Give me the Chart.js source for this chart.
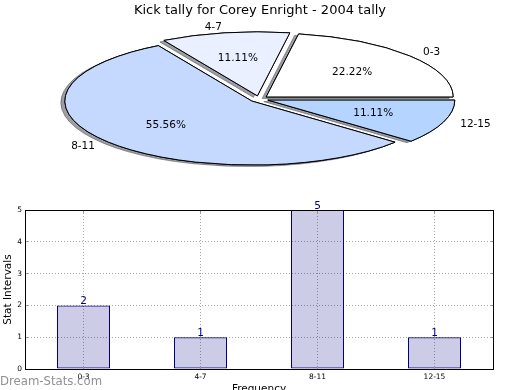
<!DOCTYPE html>
<html>
<head>
<meta charset="utf-8">
<script src="https://cdn.jsdelivr.net/npm/chart.js@4"></script>
<style>
  html, body { margin: 0; padding: 0; background: #ffffff; overflow: hidden; width: 520px; height: 390px; }
  canvas { position: absolute; left: 0; top: 0; }
  #pie { z-index: 2; }
  #bar { z-index: 1; }
</style>
</head>
<body>
<canvas id="bar" width="520" height="400"></canvas>
<canvas id="pie" width="520" height="200"></canvas>
<script>
// ---- data ----
const chartTitle = 'Kick tally for Corey Enright - 2004 tally';
const categories = ['0-3', '4-7', '8-11', '12-15'];
const counts = [2, 1, 5, 1];
const yTickValues = [0, 1, 2, 3, 4, 5];
const xAxisTitle = 'Frequency';
const yAxisTitle = 'Stat Intervals';
const watermarkText = 'Dream-Stats.com';

// ---- styles / layout ----
const FONT = 'DejaVu Sans';
const sliceColors = ['#ffffff', '#eaf0ff', '#c5d9ff', '#b5d4ff'];
const PIE = { cx: 259, cy: 99, rx: 187, ry: 64, explode: 0.05, labelDist: 1.095, pctDist: 0.6 };
const BAR_FILL = 'rgba(0,0,128,0.2)';
const BAR_EDGE = '#000080';

Chart.defaults.font.family = FONT;
Chart.defaults.color = '#000';

// ---------- PIE ----------
const pieLabels = categories.slice().reverse();
const pieValues = counts.slice().reverse();
const pieColors = sliceColors.slice().reverse();

const pieSquash = {
  id: 'pieSquash',
  beforeDatasetsDraw(chart) {
    const ctx = chart.ctx;
    const arcs = chart.getDatasetMeta(0).data;
    const base = ctx.getTransform();
    const k = PIE.ry / PIE.rx;
    const pass = (shadow) => {
      arcs.forEach(arc => {
        const mid = (arc.startAngle + arc.endAngle) / 2;
        const t = PIE.explode * arc.outerRadius;
        ctx.save();
        ctx.translate(PIE.cx, PIE.cy);
        ctx.scale(1, k);
        ctx.translate(-arc.x + t * Math.cos(mid), -arc.y + t * Math.sin(mid));
        if (shadow) {
          ctx.shadowColor = 'rgba(60,64,76,0.5)';
          ctx.shadowOffsetX = -4;
          ctx.shadowOffsetY = 1.5;
          ctx.shadowBlur = 0;
        }
        const proto = CanvasRenderingContext2D.prototype.stroke;
        ctx.stroke = function () { this.save(); this.setTransform(base); proto.call(this); this.restore(); };
        arc.draw(ctx);
        delete ctx.stroke;
        ctx.restore();
      });
    };
    pass(true);
    pass(false);
    return false;
  },
  afterDraw(chart) {
    const ctx = chart.ctx;
    const arcs = chart.getDatasetMeta(0).data;
    const data = chart.data.datasets[0].data;
    const total = data.reduce((a, b) => a + b, 0);
    const k = PIE.ry / PIE.rx;
    ctx.save();
    ctx.font = '10.5px "' + FONT + '"';
    ctx.fillStyle = '#000';
    ctx.textBaseline = 'middle';
    arcs.forEach((arc, i) => {
      const mid = (arc.startAngle + arc.endAngle) / 2;
      const R = arc.outerRadius;
      const t = PIE.explode * R;
      const c = Math.cos(mid), s = Math.sin(mid);
      const lx = PIE.cx + (t + PIE.labelDist * R) * c;
      const ly = PIE.cy + (t + PIE.labelDist * R) * s * k;
      ctx.textAlign = c > 0 ? 'left' : 'right';
      ctx.fillText(chart.data.labels[i], lx, ly);
      const px = PIE.cx + (t + PIE.pctDist * R) * c;
      const py = PIE.cy + (t + PIE.pctDist * R) * s * k;
      ctx.textAlign = 'center';
      ctx.fillText((data[i] / total * 100).toFixed(2) + '%', px, py);
    });
    ctx.restore();
  }
};

new Chart(document.getElementById('pie'), {
  type: 'pie',
  data: {
    labels: pieLabels,
    datasets: [{
      data: pieValues,
      backgroundColor: pieColors,
      borderColor: '#000',
      borderWidth: 1,
      borderJoinStyle: 'miter',
      radius: PIE.rx,
      clip: false
    }]
  },
  options: {
    responsive: false,
    animation: false,
    rotation: 90,
    events: [],
    plugins: {
      legend: { display: false },
      tooltip: { enabled: false },
      title: {
        display: true,
        text: chartTitle,
        font: { size: 13, weight: 'normal', family: FONT },
        color: '#000',
        padding: { top: 2.5, bottom: 0 }
      }
    }
  },
  plugins: [pieSquash]
});

// ---------- BAR ----------
const frame = {
  id: 'frame',
  afterDatasetsDraw(chart) {
    const { ctx, chartArea: a, scales } = chart;
    const L = Math.floor(a.left) + 0.5, R = Math.floor(a.right) + 0.5;
    const T = Math.floor(a.top) + 0.5, B = Math.floor(a.bottom) + 0.5;
    ctx.save();
    ctx.strokeStyle = '#999999';
    ctx.lineWidth = 1;
    ctx.beginPath();
    scales.y.ticks.forEach(tk => {
      const y = Math.floor(scales.y.getPixelForValue(tk.value)) + 0.5;
      ctx.moveTo(L, y); ctx.lineTo(L + 3, y);
      ctx.moveTo(R, y); ctx.lineTo(R - 3, y);
    });
    scales.x.ticks.forEach((tk, i) => {
      const x = Math.floor(scales.x.getPixelForTick(i)) + 0.5;
      ctx.moveTo(x, B); ctx.lineTo(x, B - 3);
      ctx.moveTo(x, T); ctx.lineTo(x, T + 3);
    });
    ctx.stroke();
    ctx.strokeStyle = '#000';
    ctx.strokeRect(L, T, R - L, B - T);
    ctx.restore();
  }
};

const barLabels = {
  id: 'barLabels',
  afterDraw(chart) {
    const ctx = chart.ctx;
    const meta = chart.getDatasetMeta(0);
    const data = chart.data.datasets[0].data;
    ctx.save();
    ctx.font = '10.5px "' + FONT + '"';
    ctx.fillStyle = BAR_EDGE;
    ctx.textAlign = 'center';
    ctx.textBaseline = 'alphabetic';
    meta.data.forEach((bar, i) => {
      ctx.fillText(String(data[i]), bar.x, bar.y - 1);
    });
    ctx.font = '11.7px "' + FONT + '"';
    ctx.fillStyle = 'rgba(125,125,125,0.85)';
    ctx.textAlign = 'left';
    ctx.fillText(watermarkText, 0, 385);
    ctx.restore();
  }
};

new Chart(document.getElementById('bar'), {
  type: 'bar',
  data: {
    labels: categories,
    datasets: [{
      data: counts,
      backgroundColor: BAR_FILL,
      borderColor: BAR_EDGE,
      borderWidth: 1,
      borderSkipped: false,
      barPercentage: 0.453,
      categoryPercentage: 1
    }]
  },
  options: {
    responsive: false,
    animation: false,
    events: [],
    layout: { padding: { top: 210, right: 27, left: 0, bottom: 0 } },
    plugins: { legend: { display: false }, tooltip: { enabled: false } },
    scales: {
      x: {
        offset: true,
        grid: { offset: false, color: '#a8a8a8', lineWidth: 1, drawTicks: false },
        border: { display: false, dash: [1, 2] },
        ticks: { font: { size: 7.5 }, color: '#000', padding: 4, maxRotation: 0, autoSkip: false },
        title: { display: true, text: xAxisTitle, font: { size: 10.5 }, color: '#000', padding: { top: 0, bottom: 4.7 } },
        afterFit(s) { s.height = 31; }
      },
      y: {
        min: yTickValues[0],
        max: yTickValues[yTickValues.length - 1],
        afterBuildTicks(s) { s.ticks = yTickValues.map(v => ({ value: v })); },
        grid: { color: '#a8a8a8', lineWidth: 1, drawTicks: false },
        border: { display: false, dash: [1, 2] },
        ticks: { font: { size: 7.5 }, color: '#000', padding: 3 },
        title: { display: true, text: yAxisTitle, font: { size: 10.5 }, color: '#000', padding: { top: 2.4, bottom: 0 } },
        afterFit(s) { s.width = 25; }
      }
    }
  },
  plugins: [frame, barLabels]
});
</script>
</body>
</html>
